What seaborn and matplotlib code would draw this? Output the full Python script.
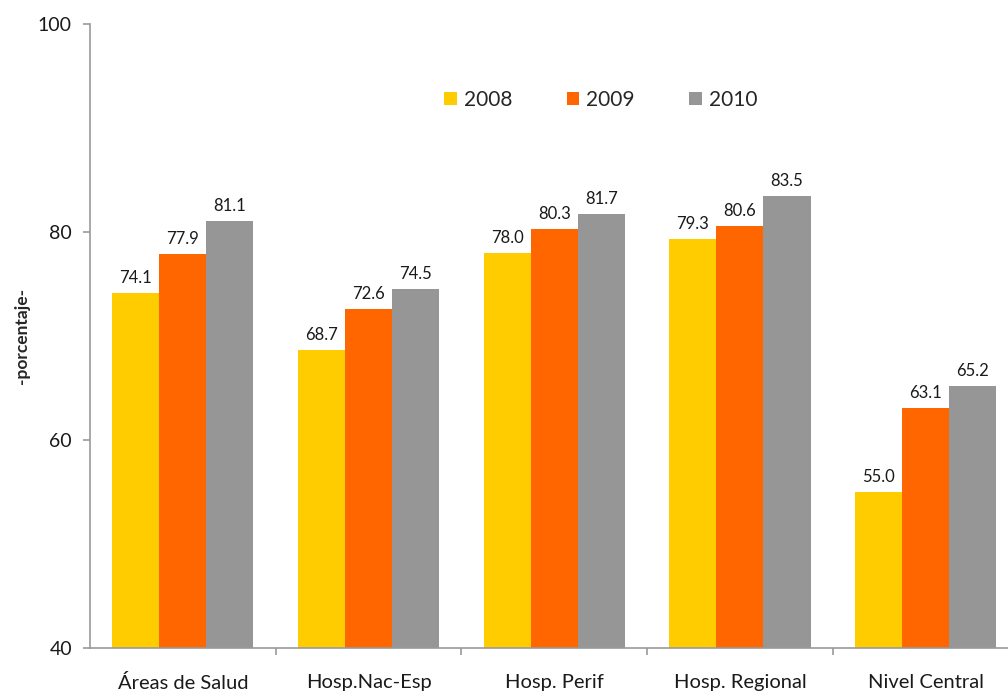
import matplotlib
matplotlib.use("Agg")
import matplotlib.pyplot as plt
import seaborn as sns
import pandas as pd

categories = ["Áreas de Salud", "Hosp.Nac-Esp", "Hosp. Perif", "Hosp. Regional", "Nivel Central"]
years = ["2008", "2009", "2010"]
values_2008 = [74.1, 68.7, 78.0, 79.3, 55.0]
values_2009 = [77.9, 72.6, 80.3, 80.6, 63.1]
values_2010 = [81.1, 74.5, 81.7, 83.5, 65.2]
colors = ["#FFCC00", "#FF6600", "#969696"]

rows = []
for year, vals in zip(years, [values_2008, values_2009, values_2010]):
    for cat, v in zip(categories, vals):
        rows.append({"categoria": cat, "anio": year, "valor": v})
df = pd.DataFrame(rows)

sns.set_theme(style="white")
plt.rcParams["font.family"] = ["Lato", "DejaVu Sans"]

fig = plt.figure(figsize=(10.08, 6.93), dpi=100)
ax_left, ax_right = 0.0893, 1.0104
ax = fig.add_axes([ax_left, 0.0649, ax_right - ax_left, 0.9654 - 0.0649])

sns.barplot(data=df, x="categoria", y="valor", hue="anio", order=categories,
            hue_order=years, palette=colors, width=0.76, saturation=1,
            edgecolor="none", linewidth=0, ax=ax)

for cont in ax.containers:
    ax.bar_label(cont, fmt="%.1f", padding=5, fontsize=12, color="#1a1a1a")

ax.set_ylim(40, 100)
ax.set_yticks([40, 60, 80, 100])
ax.set_xlim(-0.5, len(categories) - 0.5)
ax.set_xlabel("")
ax.set_ylabel("-porcentaje-", fontsize=12.5, fontweight="bold")
ax.yaxis.set_label_coords(-0.065, 0.5)

for side in ["top", "right"]:
    ax.spines[side].set_visible(False)
for side in ["left", "bottom"]:
    ax.spines[side].set_color("#999999")
    ax.spines[side].set_linewidth(1.2)

ax.set_xticks([i + 0.5 for i in range(len(categories))], minor=True)
ax.tick_params(axis="x", which="major", length=0, pad=19, labelsize=14.5, colors="#1a1a1a")
ax.tick_params(axis="x", which="minor", bottom=True, length=5, width=1.2, color="#999999")
ax.tick_params(axis="y", which="major", left=True, length=5, width=1.2, color="#999999",
               pad=8, labelsize=14, labelcolor="#1a1a1a")

# legend centred in figure coordinates, converted to axes fraction
legend_x = (0.596 - ax_left) / (ax_right - ax_left)
leg = ax.legend(loc="upper center", bbox_to_anchor=(legend_x, 0.925),
                ncol=3, frameon=False, fontsize=15, handlelength=0.6, handleheight=0.6,
                columnspacing=2.6, handletextpad=0.35)
leg.set_title(None)

fig.savefig("out.png", dpi=100)
